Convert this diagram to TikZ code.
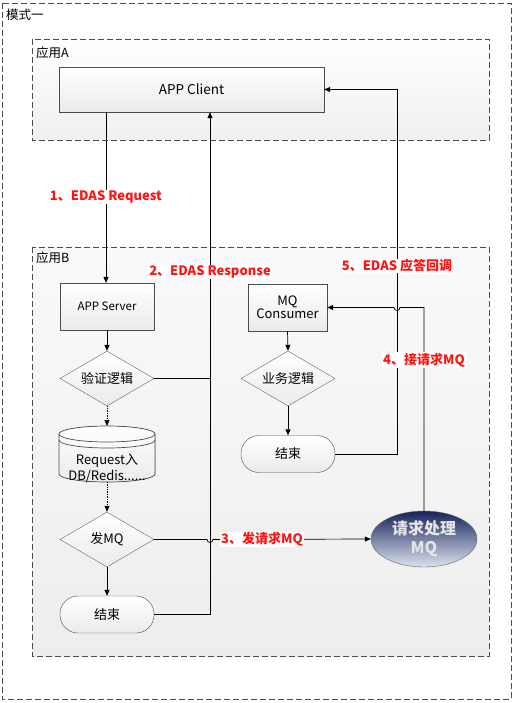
\documentclass[tikz,border=0pt]{standalone}
\usepackage{fontspec}
\setmainfont{Noto Sans CJK SC}
\usetikzlibrary{shapes.geometric,arrows.meta,calc}
\definecolor{lbl}{RGB}{255,20,20}
\definecolor{navy}{RGB}{22,36,90}
\definecolor{pale}{RGB}{220,226,238}
\begin{document}
\begin{tikzpicture}[x=1pt,y=-1pt,
  frame/.style={draw=black!70,dashed,dash pattern=on 6pt off 3pt,line width=0.9pt},
  box/.style={draw=black!70,top color=white,bottom color=black!8,inner sep=0pt,align=center},
  dia/.style={draw=black!60,diamond,top color=white,bottom color=black!8,minimum width=94pt,minimum height=55pt,inner sep=0pt,aspect=1.7,font=\fontsize{13}{15}\selectfont},
  term/.style={draw=black!70,rounded corners=18pt,top color=white,bottom color=black!8,minimum width=94pt,minimum height=37pt,inner sep=0pt,font=\fontsize{13}{15}\selectfont},
  lab/.style={text=lbl,font=\bfseries\fontsize{13}{15}\selectfont,fill=white,inner sep=1pt},
  ttl/.style={anchor=west,font=\fontsize{12.5}{14}\selectfont,inner sep=0pt},
  arr/.style={-{Triangle[length=6pt,width=5pt]},line width=0.7pt},
  ln/.style={line width=0.7pt}]
\useasboundingbox (0,0) rectangle (514,703);
\fill[white] (0,0) rectangle (514,703);
% frames
\draw[frame] (2,3) rectangle (511,699);
\node[ttl] (t0) at (6,15) {模式一};
\shade[top color=white,bottom color=black!6] (32,39) rectangle (489,140);
\draw[frame] (32,39) rectangle (489,140);
\node[ttl] (tA) at (36,53) {应用A};
\shade[top color=black!2,bottom color=black!7] (32,247) rectangle (489,656);
\draw[frame] (32,247) rectangle (489,656);
\node[ttl] (tB) at (36,258) {应用B};
% nodes
\node[box,minimum width=265pt,minimum height=45pt,font=\fontsize{13.5}{15}\selectfont] (client) at (191.5,89.5) {APP Client};
\node[box,minimum width=94pt,minimum height=47pt,font=\fontsize{11.5}{13}\selectfont] (server) at (107,306.5) {APP Server};
\node[dia] (verify) at (107,378.5) {验证逻辑};
% cylinder
\coordinate (cyltop) at (107,426);
\coordinate (cylbot) at (107,482);
\fill[top color=white,bottom color=black!8] (59,434) -- (59,474) arc[start angle=180,end angle=360,x radius=48,y radius=-8] -- (155,434) arc[start angle=0,end angle=180,x radius=48,y radius=-8] -- cycle;
\draw[black!70,line width=0.7pt] (59,434) -- (59,474) arc[start angle=180,end angle=360,x radius=48,y radius=-8] -- (155,434) arc[start angle=0,end angle=180,x radius=48,y radius=-8] -- cycle;
\draw[black!70,line width=0.7pt] (59,434) arc[start angle=180,end angle=360,x radius=48,y radius=-8];
\draw[black!70,line width=0.7pt] (59,440) arc[start angle=180,end angle=360,x radius=48,y radius=-8];
\node[font=\fontsize{13}{16}\selectfont,align=center,inner sep=0pt] (cyl) at (107,468) {Request入\\DB/Redis......};
\node[dia] (sendmq) at (107,539.5) {发MQ};
\node[term] (endL) at (107,614.5) {结束};
\node[box,minimum width=79pt,minimum height=47pt,font=\fontsize{13}{15}\selectfont] (consumer) at (287.5,307.5) {MQ\\[-2pt]Consumer};
\node[dia] (biz) at (288,378.5) {业务逻辑};
\node[term] (endR) at (288,454) {结束};
\node[ellipse,draw=black!60,top color=navy,bottom color=pale,minimum width=106pt,minimum height=56pt,inner sep=0pt,text=white!90!black,font=\bfseries\fontsize{16}{19}\selectfont,align=center] (mq) at (424,539) {请求处理\\MQ};
% connectors
\draw[arr] (client.south -| 106,0) -- (server.north -| 106,0);
\node[lab] (l1) at (106,197) {1、EDAS Request};
\coordinate (rx) at (210,0);
\draw[ln] (verify.east) -- (verify.east -| rx);
\draw[arr] (endL.east) -- (endL.east -| rx) -- (client.south -| rx);
\node[lab] (l2) at (210,272) {2、EDAS Response};
\draw[arr] (endR.east) -- (397,454) -- (397,89.5) -- (client.east);
\node[lab] (l5) at (397,266) {5、EDAS 应答回调};
\draw[arr] (sendmq.east) -- (207,539.5) arc[start angle=180,end angle=0,radius=3] -- (mq.west);
\node[lab] (l3) at (262,539.5) {3、发请求MQ};
\draw[arr] (mq.north) -- (424,307.5) -- (400,307.5) arc[start angle=0,end angle=180,radius=3] -- (consumer.east);
\node[lab] (l4) at (424,360) {4、接请求MQ};
\draw[arr,densely dotted,line width=0.6pt] (verify.south) -- (cyltop);
\draw[arr,densely dotted,line width=0.6pt] (cylbot) -- (sendmq.north);
\draw[arr] (sendmq.south) -- (endL.north);
\draw[arr] (server.south) -- (verify.north);
\draw[arr] (consumer.south) -- (biz.north);
\draw[arr] (biz.south) -- (endR.north);
\end{tikzpicture}
\end{document}
